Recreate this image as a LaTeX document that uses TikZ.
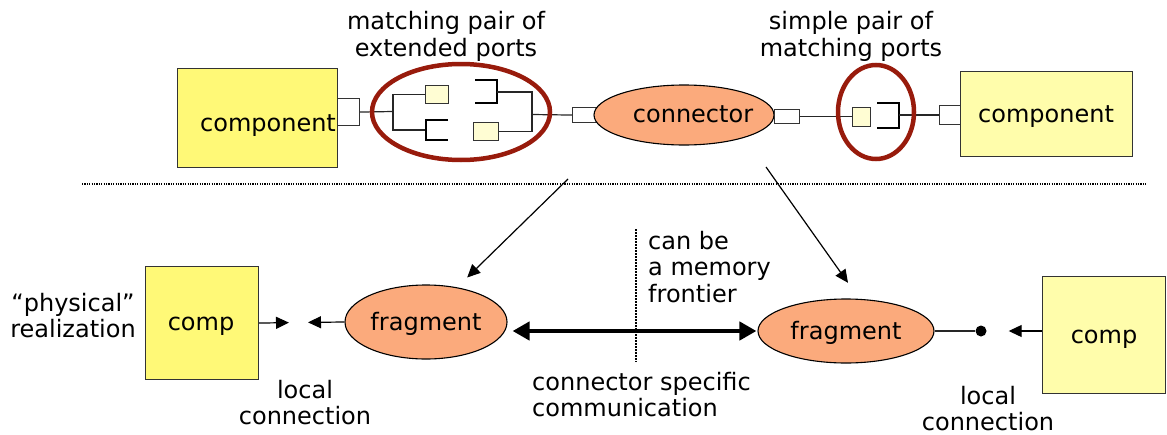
\documentclass[tikz,border=0pt]{standalone}
\usepackage{fontspec}
\setmainfont{DejaVu Sans}
\usetikzlibrary{shapes.geometric,arrows.meta}
\definecolor{brightyellow}{HTML}{FFF977}
\definecolor{paleyellow}{HTML}{FFFDAB}
\definecolor{portyellow}{HTML}{FFFDD3}
\definecolor{salmon}{HTML}{FBAA7C}
\definecolor{ringred}{HTML}{981B0C}
\begin{document}
\begin{tikzpicture}[x=1pt,y=-1pt,
  txt/.style={inner sep=0pt,font=\fontsize{24}{26.5}\selectfont,anchor=base},
  box/.style={draw=black!80,line width=1.1pt,inner sep=0pt,anchor=north west},
  port/.style={box,fill=white},
  pin/.style={box,fill=portyellow},
  blob/.style={ellipse,draw=black,line width=1.1pt,fill=salmon,inner sep=0pt},
  ring/.style={ellipse,draw=ringred,line width=4.5pt,inner sep=0pt},
  wire/.style={line width=1.2pt,black!85},
  hook/.style={line width=2.6pt,black},
  tip/.style={-{Triangle[length=13pt,width=12pt]},line width=1.2pt},
  big/.style={{Triangle[length=17pt,width=18pt]}-{Triangle[length=17pt,width=18pt]},line width=4.5pt},
  sep/.style={line width=2pt,dash pattern=on 1.2pt off 1.2pt},
  sepv/.style={line width=1.5pt,dash pattern=on 1.5pt off 1.5pt},
]
\useasboundingbox (0,0) rectangle (1167,434);

% ---------- upper row: component - ports - connector - ports - component
\node[box,fill=brightyellow,minimum width=160,minimum height=99] (compA) at (177,68) {};
\node[txt] (compAtext) at (268,131) {component};
\node[port,minimum width=22,minimum height=27] (pA) at (337,98) {};
\coordinate (splitA) at (393,111.5);
\node[pin,minimum width=23,minimum height=18] (yA1) at (425,85) {};
\node[pin,minimum width=25,minimum height=18] (yA2) at (473,122) {};
\coordinate (mergeA) at (532,114.5);
\node[port,minimum width=24,minimum height=15] (pB) at (572,107) {};
\node[blob,minimum width=180,minimum height=60] (conn) at (684,115) {};
\node[txt] (conntext) at (693,122) {connector};
\node[port,minimum width=25,minimum height=14] (pC) at (774,109) {};
\node[pin,minimum width=18,minimum height=19] (yB) at (852,107) {};
\node[port,minimum width=21,minimum height=19] (pD) at (939,105) {};
\node[box,fill=paleyellow,minimum width=172,minimum height=85] (compB) at (960,71) {};
\node[txt] (compBtext) at (1046,122) {component};

% extended port pair
\draw[wire] (pA.east) -- (splitA);
\draw[wire] (yA1.west) -| (splitA) |- (426,130);
\draw[hook] (448,120) -- (426,120) -- (426,140) -- (448,140);
\draw[hook] (475,80) -- (497,80) -- (497,103) -- (475,103);
\draw[wire] (497,92) -| (mergeA) |- (yA2.east);
\draw[wire] (mergeA) -- (pB.west);

% simple port pair
\draw[wire] (pC.east) -- (yB.west |- pC.east);
\draw[hook] (877,103) -- (899,103) -- (899,128) -- (877,128);
\draw[wire] (pD.west -| 899,0) -- (pD.west);

% highlight rings
\node[ring,minimum width=178,minimum height=96] (ringA) at (461,112) {};
\node[ring,minimum width=76,minimum height=94] (ringB) at (876,112) {};

% multi-line labels are placed by the baseline of their last line
\node[txt,align=center] (lblA) at (446,56) {matching pair of\\extended ports};
\node[txt,align=center] (lblB) at (851,56) {simple pair of\\matching ports};

% separator between the two levels
\coordinate (sepL) at (82,184);
\coordinate (sepR) at (1147,184);
\draw[sep] (sepL) -- (sepR);

% ---------- lower row: physical realization
\node[box,fill=brightyellow,minimum width=113,minimum height=113] (compC) at (145,266) {};
\node[txt] (compCtext) at (201,330) {comp};
\node[blob,minimum width=162,minimum height=74] (fragA) at (426,322) {};
\node[txt] (fragAtext) at (426,330) {fragment};
\node[blob,minimum width=176,minimum height=64] (fragB) at (846,331) {};
\node[txt] (fragBtext) at (846,339) {fragment};
\node[circle,fill=black,minimum size=11,inner sep=0pt] (dotB) at (981,331) {};
\node[box,fill=paleyellow,minimum width=123,minimum height=117] (compD) at (1042,276) {};
\node[txt] (compDtext) at (1104,343) {comp};

\coordinate (jointA) at (298,322.5);
\draw[tip,shorten >=9pt] (compC.east) -- (jointA);
\draw[tip,shorten >=10pt] (fragA.west) -- (jointA);
\draw[big,shorten <=5pt,shorten >=1pt] (fragA.east |- fragB.west) -- (fragB.west);
\draw[wire] (fragB.east) -- (dotB);
\draw[tip,shorten >=22pt] (compD.west |- dotB) -- (dotB);

% refinement arrows from the connector down to its fragments
\coordinate (fromConnL) at (568,179);
\coordinate (fromConnR) at (766,167);
\draw[tip] (fromConnL) -- ([shift={(9,-10)}]fragA.47);
\draw[tip] (fromConnR) -- ([shift={(-11,-16)}]fragB.68);

% possible memory frontier
\coordinate (frontTop) at (636,229);
\coordinate (frontBot) at (636,362);
\draw[sepv] (frontTop) -- (frontBot);

\node[txt,align=left,anchor=base west] (lblFront) at (648,302) {can be\\a memory\\frontier};
\node[txt,align=center] (lblPhys) at (73,337.5) {“physical”\\realization};
\node[txt,align=center] (lblLocA) at (305,424.5) {local\\connection};
\node[txt,align=left,anchor=base west] (lblComm) at (532,416.5) {connector specific\\communication};
\node[txt,align=center] (lblLocB) at (988,430.5) {local\\connection};
\end{tikzpicture}
\end{document}
